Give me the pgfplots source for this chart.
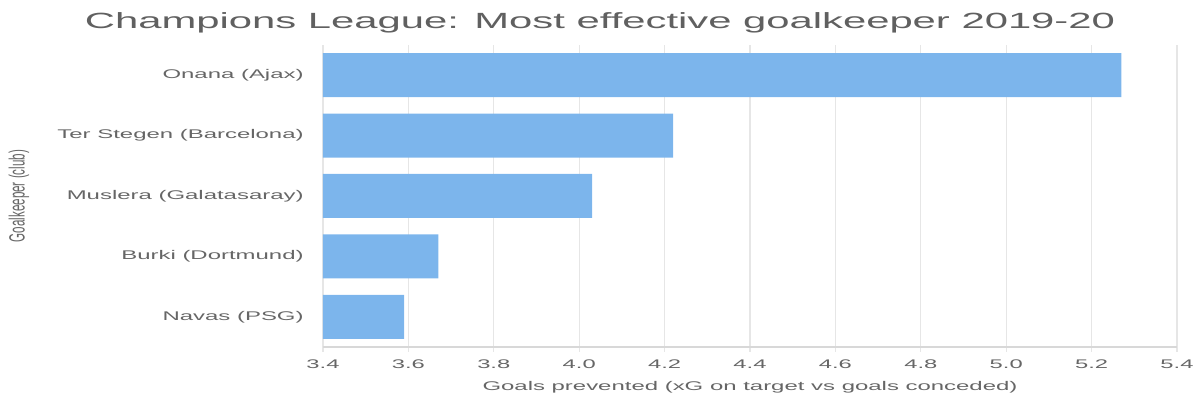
\documentclass[border=0pt]{standalone}
\usepackage{pgfplots}
\pgfplotsset{compat=1.18}
\usepackage{fontspec}
\setmainfont{Liberation Sans}[FakeStretch=1.9]
\newfontfamily\ylabfont{Liberation Sans}
\definecolor{barblue}{HTML}{7CB5EC}
\definecolor{gridgray}{HTML}{E6E6E6}
\definecolor{axisgray}{HTML}{D8D8D8}
\definecolor{labelgray}{HTML}{666666}
\definecolor{titlegray}{HTML}{606060}
\begin{document}
\begin{tikzpicture}
\useasboundingbox (0,0) rectangle (600pt,200pt);
\begin{axis}[
  at={(161.5pt,26.5pt)}, anchor=south west,
  scale only axis, width=427pt, height=151pt,
  xbar, bar width=22pt,
  xmin=3.4, xmax=5.4, ymin=-0.5, ymax=4.5,
  xtick={3.4,3.6,3.8,4.0,4.2,4.4,4.6,4.8,5.0,5.2,5.4},
  xticklabels={3.4,3.6,3.8,4.0,4.2,4.4,4.6,4.8,5.0,5.2,5.4},
  ytick={0,1,2,3,4},
  yticklabels={Navas (PSG),Burki (Dortmund),Muslera (Galatasaray),Ter Stegen (Barcelona),Onana (Ajax)},
  xmajorgrids, grid style={draw=gridgray, line width=0.6pt},
  axis lines*=left,
  x axis line style={draw=axisgray, line width=0.6pt, -},
  y axis line style={draw=none},
  tick align=outside, major tick length=2.5pt,
  xtick style={draw=gridgray, line width=0.6pt},
  ytick style={draw=none},
  /pgf/number format/assume math mode=true,
  x tick label style={font=\fontsize{6.25}{7}\selectfont, text=labelgray, anchor=center, yshift=-6pt},
  y tick label style={font=\fontsize{6.3}{7}\selectfont, text=labelgray, anchor=east, inner sep=0pt, xshift=-7pt},
  every axis x label/.style={at={(axis description cs:0.5,0)}, anchor=center, yshift=-20pt, font=\fontsize{6.3}{7}\selectfont, text=labelgray},
  every axis y label/.style={at={(axis description cs:0,0.5)}, anchor=center, xshift=-152pt, rotate=90, yscale=1.9, font=\ylabfont\fontsize{5.8}{7}\selectfont, text=labelgray},
  xlabel={Goals prevented (xG on target vs goals conceded)},
  ylabel={Goalkeeper (club)},
  title={Champions League: Most effective goalkeeper 2019-20},
  title style={at={(axis description cs:0.5,1)}, anchor=base, xshift=-75pt, yshift=2.5pt, font=\fontsize{11}{13}\selectfont, text=titlegray},
]
\addplot[fill=barblue, draw=none] coordinates {
  (3.59,0)
  (3.67,1)
  (4.03,2)
  (4.22,3)
  (5.27,4)
};
\end{axis}
\end{tikzpicture}
\end{document}
